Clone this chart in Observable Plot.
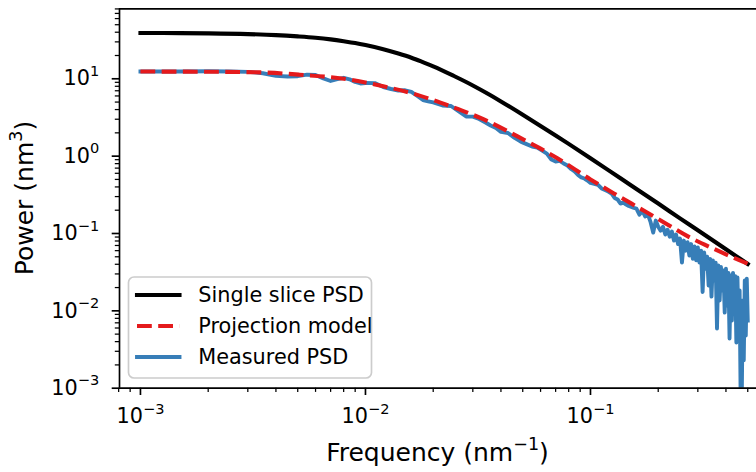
<!DOCTYPE html>
<html>
<head>
<meta charset="utf-8">
<script src="https://cdn.jsdelivr.net/npm/d3@7"></script>
<script src="https://cdn.jsdelivr.net/npm/@observablehq/plot@0.6"></script>
<style>
  html, body { margin: 0; padding: 0; background: #fff; }
  #chart { width: 756px; height: 472px; overflow: hidden; }
</style>
</head>
<body>
<div id="chart"></div>
<script>
// ---------- data ----------
const sliceFreq  = [0.001, 0.0015, 0.002, 0.003, 0.004, 0.005, 0.006, 0.007, 0.008, 0.009,
                    0.010, 0.012, 0.014, 0.016, 0.018, 0.020, 0.025, 0.030, 0.035, 0.040,
                    0.050, 0.060, 0.070, 0.080, 0.100, 0.120, 0.150, 0.200, 0.250, 0.300,
                    0.400, 0.500];
const slicePower = [39.1, 38.9, 38.6, 37.8, 36.7, 35.3, 33.9, 32.3, 30.6, 29.0,
                    27.3, 24.1, 21.2, 18.7, 16.4, 14.5, 10.7, 8.2, 6.4, 5.1,
                    3.43, 2.46, 1.85, 1.44, 0.94, 0.66, 0.427, 0.244, 0.157, 0.110,
                    0.0625, 0.0403];

const modelFreq  = [0.001, 0.00185, 0.0034, 0.0051, 0.008, 0.012, 0.017, 0.0239, 0.0334, 0.0474, 0.06, 0.0713, 0.1, 0.1265, 0.1722, 0.2198, 0.2698, 0.3524, 0.4325, 0.5];
const modelPower = [12.4, 12.35, 12.1, 11.3, 10.0, 8.0, 6.2, 4.4, 3.0, 1.8, 1.25, 0.94, 0.50, 0.332, 0.198, 0.131, 0.0924, 0.0635, 0.0486, 0.0406];

const measuredFreq = [
  0.001, 0.0015, 0.002, 0.0025, 0.003, 0.0035, 0.004, 0.0045, 0.005, 0.0055,
  0.006, 0.0065, 0.007, 0.0075, 0.008, 0.0085, 0.009, 0.0095, 0.010, 0.011,
  0.012, 0.013, 0.014, 0.015, 0.016, 0.017, 0.018, 0.019, 0.020, 0.022,
  0.024, 0.026, 0.028, 0.030, 0.032, 0.034, 0.036, 0.038, 0.040, 0.043,
  0.046, 0.049, 0.052, 0.055, 0.058, 0.061, 0.064, 0.067, 0.070, 0.073,
  0.076, 0.079, 0.082, 0.085, 0.088, 0.091, 0.094, 0.097, 0.100, 0.104,
  0.108, 0.112, 0.116, 0.120, 0.124, 0.128, 0.132, 0.136, 0.140, 0.144,
  0.148, 0.152, 0.156,
  0.160, 0.165, 0.170, 0.175, 0.180, 0.185, 0.190, 0.195, 0.200, 0.205,
  0.210, 0.215, 0.220, 0.225, 0.230, 0.235, 0.240, 0.245, 0.250, 0.255,
  0.260, 0.265, 0.270, 0.275, 0.280, 0.285, 0.290, 0.295, 0.300, 0.305,
  0.310, 0.315, 0.320, 0.325, 0.330, 0.335, 0.340, 0.345, 0.350, 0.355,
  0.360, 0.365, 0.370, 0.375, 0.380, 0.385, 0.390, 0.395, 0.400, 0.405,
  0.410, 0.415, 0.420, 0.425, 0.430, 0.435, 0.440, 0.445, 0.450, 0.455,
  0.460, 0.465, 0.470, 0.475, 0.480, 0.485, 0.490, 0.495, 0.500
];
const measuredPower = [
  12.4, 12.4, 12.5, 12.4, 12.3, 11.8, 10.9, 10.7, 10.8, 11.3,
  11.2, 10.1, 9.37, 9.91, 10.3, 9.85, 9.09, 8.70, 8.83, 8.8,
  7.83, 7.38, 7.06, 7.10, 6.75, 5.99, 5.32, 5.12, 4.94, 4.52,
  4.45, 3.78, 3.26, 3.24, 3.02, 2.74, 2.49, 2.31, 2.06, 1.99,
  1.72, 1.54, 1.43, 1.33, 1.29, 1.18, 1.08, 0.905, 0.853, 0.87,
  0.803, 0.757, 0.682, 0.633, 0.571, 0.530, 0.514, 0.484, 0.450, 0.437,
  0.424, 0.382, 0.365, 0.349, 0.329, 0.288, 0.275, 0.244, 0.25, 0.237,
  0.227, 0.220, 0.214,
  0.21, 0.175, 0.198, 0.166, 0.175, 0.14, 0.103, 0.147, 0.122, 0.109,
  0.122, 0.097, 0.112, 0.091, 0.106, 0.081, 0.097, 0.073, 0.086, 0.042,
  0.081, 0.060, 0.077, 0.052, 0.073, 0.047, 0.068, 0.045, 0.066, 0.042,
  0.060, 0.0175, 0.057, 0.035, 0.050, 0.0213, 0.047, 0.0153, 0.0448, 0.0247,
  0.042, 0.0059, 0.0386, 0.0136, 0.037, 0.0183, 0.0333, 0.0095, 0.035, 0.0117,
  0.031, 0.0044, 0.0287, 0.0075, 0.031, 0.0136, 0.028, 0.0039, 0.027, 0.0056,
  0.0183, 0.0007, 0.0006, 0.0136, 0.0023, 0.0247, 0.0048, 0.026, 0.0075
];

const xDomain = [8.07e-4, 0.5468];
const yDomain = [1e-3, 80.3];
const xMajorTicks = [1e-3, 1e-2, 1e-1];
const xMinorTicks = [8e-4, 9e-4, 2e-3, 3e-3, 4e-3, 5e-3, 6e-3, 7e-3, 8e-3, 9e-3,
                     0.02, 0.03, 0.04, 0.05, 0.06, 0.07, 0.08, 0.09, 0.2, 0.3, 0.4, 0.5];
const yMajorTicks = [1e-3, 1e-2, 1e-1, 1, 10];
const yMinorTicks = [2e-3, 3e-3, 4e-3, 5e-3, 6e-3, 7e-3, 8e-3, 9e-3,
                     0.02, 0.03, 0.04, 0.05, 0.06, 0.07, 0.08, 0.09,
                     0.2, 0.3, 0.4, 0.5, 0.6, 0.7, 0.8, 0.9,
                     2, 3, 4, 5, 6, 7, 8, 9,
                     20, 30, 40, 50, 60, 70, 80];

const seriesNames = ["Single slice PSD", "Projection model", "Measured PSD"];
const seriesColors = ["#000000", "#e41a1c", "#377eb8"];
const xLabel = ["Frequency (nm", "\u22121", ")"];
const yLabel = ["Power (nm", "3", ")"];

// ---------- build tables ----------
const slice = sliceFreq.map((f, i) => ({f, p: slicePower[i]}));
const model = modelFreq.map((f, i) => ({f, p: modelPower[i]}));
const measured = measuredFreq.map((f, i) => ({f, p: measuredPower[i]}));

const supMap = {"-": "\u207b", "0": "\u2070", "1": "\u00b9", "2": "\u00b2", "3": "\u00b3",
  "4": "\u2074", "5": "\u2075", "6": "\u2076", "7": "\u2077", "8": "\u2078", "9": "\u2079"};
const powFmt = d => "10" + String(Math.round(Math.log10(d))).split("").map(c => supMap[c]).join("");

const FS = 20.8;
const chart = Plot.plot({
  width: 756,
  height: 472,
  marginTop: 8.3,
  marginRight: 0,
  marginBottom: 84.3,
  marginLeft: 119,
  x: {type: "log", domain: xDomain, label: null},
  y: {type: "log", domain: yDomain, label: null},
  style: {fontFamily: "DejaVu Sans", fontSize: FS + "px", background: "white", color: "black"},
  marks: [
    Plot.line(measured, {x: "f", y: "p", stroke: seriesColors[2], strokeWidth: 3.9,
      strokeLinejoin: "round", strokeLinecap: "square", clip: true}),
    Plot.line(slice, {x: "f", y: "p", stroke: seriesColors[0], strokeWidth: 4.1,
      curve: "monotone-x", strokeLinecap: "square"}),
    Plot.line(model, {x: "f", y: "p", stroke: seriesColors[1], strokeWidth: 4.1,
      curve: "monotone-x", strokeDasharray: "14.8 6.4", strokeLinecap: "butt"}),
    Plot.axisX({ticks: xMinorTicks, tickSize: 4.2, strokeWidth: 1.25, tickFormat: () => "", label: null}),
    Plot.axisX({ticks: xMajorTicks, tickSize: 7.3, tickPadding: 13, strokeWidth: 1.67,
      tickFormat: powFmt, label: null, fontSize: FS}),
    Plot.axisY({ticks: yMinorTicks, tickSize: 4.2, strokeWidth: 1.25, tickFormat: () => "", label: null}),
    Plot.axisY({ticks: yMajorTicks, tickSize: 7.3, tickPadding: 13, strokeWidth: 1.67,
      tickFormat: powFmt, label: null, fontSize: FS}),
    Plot.ruleX([xDomain[0]], {strokeWidth: 1.67}),
    Plot.ruleY([yDomain[0]], {strokeWidth: 1.67}),
    Plot.ruleY([yDomain[1]], {strokeWidth: 1.67})
  ]
});
document.getElementById("chart").appendChild(chart);

const svg = d3.select(chart);

// mathtext-like superscripts on tick labels
const inv = Object.fromEntries(Object.entries(supMap).map(([k, v]) => [v, k]));
svg.selectAll("text").each(function () {
  const t = this.textContent;
  const m = /^10([\u207b\u2070\u00b9\u00b2\u00b3\u2074-\u2079]+)$/.exec(t);
  if (!m) return;
  const exp = m[1].split("").map(c => inv[c]).join("").replace("-", "\u2212");
  const el = d3.select(this);
  el.text("10");
  el.append("tspan").attr("font-size", (FS * 0.7) + "px").attr("dy", -9.5).text(exp);
});

// axis labels
const LFS = 25;
const xl = svg.append("text").attr("x", 437.5).attr("y", 461).attr("text-anchor", "middle")
  .attr("font-size", LFS + "px").attr("fill", "black");
xl.append("tspan").text(xLabel[0]);
xl.append("tspan").attr("font-size", (LFS * 0.7) + "px").attr("dy", -11).text(xLabel[1]);
xl.append("tspan").attr("dy", 11).text(xLabel[2]);

const yl = svg.append("text").attr("transform", "translate(33,198) rotate(-90)")
  .attr("text-anchor", "middle").attr("font-size", LFS + "px").attr("fill", "black");
yl.append("tspan").text(yLabel[0]);
yl.append("tspan").attr("font-size", (LFS * 0.7) + "px").attr("dy", -11).text(yLabel[1]);
yl.append("tspan").attr("dy", 11).text(yLabel[2]);

// legend
const lg = svg.append("g").attr("text-anchor", "start");
lg.append("rect").attr("x", 128.5).attr("y", 277).attr("width", 243).attr("height", 101)
  .attr("rx", 5.5).attr("fill", "white").attr("fill-opacity", 0.8)
  .attr("stroke", "#cccccc").attr("stroke-width", 1.67);
const rowY = [295, 326, 357];
seriesNames.forEach((name, i) => {
  const ln = lg.append("line").attr("x1", 137).attr("x2", 179.5)
    .attr("y1", rowY[i]).attr("y2", rowY[i])
    .attr("stroke", seriesColors[i]).attr("stroke-width", i === 2 ? 3.9 : 4.1);
  if (i === 1) ln.attr("stroke-dasharray", "14.8 6.4").attr("stroke-linecap", "butt");
  else ln.attr("stroke-linecap", "square");
  lg.append("text").attr("x", 198.3).attr("y", rowY[i]).attr("dy", "0.36em")
    .attr("text-anchor", "start")
    .attr("font-size", FS + "px").attr("fill", "black").text(name);
});
</script>
</body>
</html>
